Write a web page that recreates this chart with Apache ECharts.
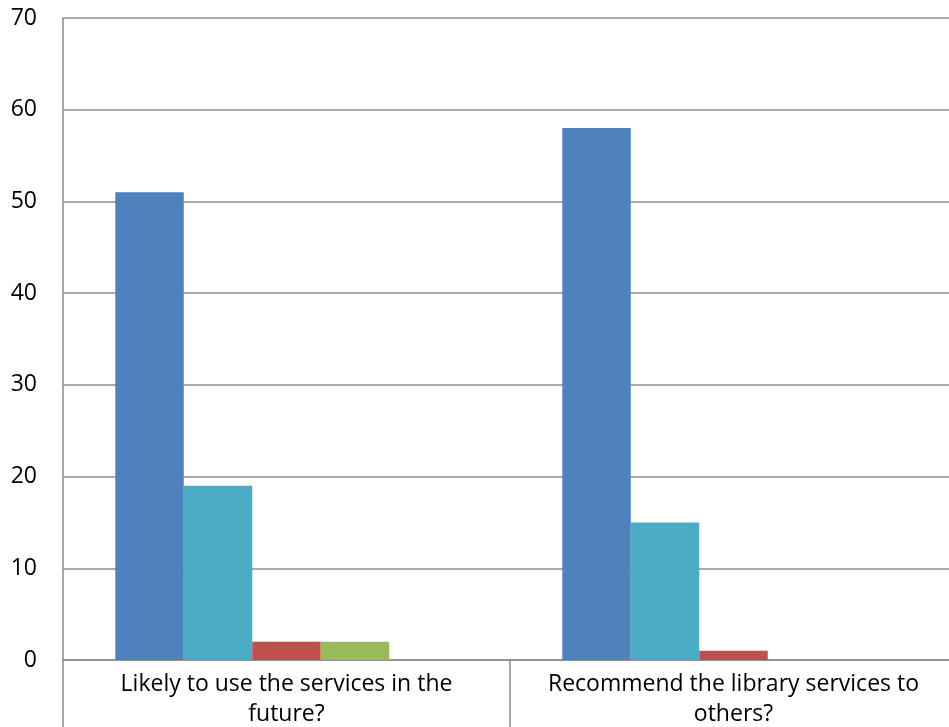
<!DOCTYPE html>
<html>
<head>
<meta charset="utf-8">
<script src="https://cdn.jsdelivr.net/npm/echarts@6/dist/echarts.min.js"></script>
<style>
  html, body { margin: 0; padding: 0; background: #fff; overflow: hidden; }
  #wrap { width: 949px; height: 727px; overflow: hidden; }
  /* the plot runs a little past the right edge of the page */
  #chart { width: 957px; height: 727px; }
</style>
</head>
<body>
<div id="wrap"><div id="chart"></div></div>
<script>
// Survey responses per question
const categories = [
  'Likely to use the services in the future?',
  'Recommend the library services to others?'
];
const seriesBlue = [51, 58];
const seriesTeal = [19, 15];
const seriesRed = [2, 1];
const seriesGreen = [2, 0];
const seriesPurple = [0, 0];
const yTicks = [0, 10, 20, 30, 40, 50, 60, 70];

const colors = ['#4F81BD', '#4BACC6', '#C0504D', '#9BBB59', '#8064A2'];
const seriesData = [seriesBlue, seriesTeal, seriesRed, seriesGreen, seriesPurple];

const chart = echarts.init(document.getElementById('chart'), null, { renderer: 'canvas' });

const gray = '#8c8c8c';
const font = 'Open Sans, Noto Sans, sans-serif';

chart.setOption({
  animation: false,
  backgroundColor: '#ffffff',
  grid: { left: 63, top: 18, right: 0, bottom: 67, containLabel: false, outerBoundsMode: 'none' },
  xAxis: {
    type: 'category',
    data: categories,
    axisLine: { lineStyle: { color: gray, width: 1.5 } },
    axisTick: { show: true, length: 70, lineStyle: { color: gray, width: 1.5 } },
    axisLabel: {
      color: '#000',
      fontSize: 23,
      fontFamily: font,
      lineHeight: 30,
      margin: 9,
      interval: 0,
      formatter: function (v) {
        const i = v.lastIndexOf(' ');
        return v.slice(0, i) + '\n' + v.slice(i + 1);
      }
    },
    splitLine: { show: false }
  },
  yAxis: {
    type: 'value',
    min: yTicks[0],
    max: yTicks[yTicks.length - 1],
    interval: 10,
    axisLine: { show: true, lineStyle: { color: gray, width: 1.5 } },
    axisTick: { show: false },
    axisLabel: { color: '#000', fontSize: 23, fontFamily: font, margin: 26 },
    splitLine: { lineStyle: { color: gray, width: 1.5 } }
  },
  series: seriesData.map((d, i) => ({
    type: 'bar',
    data: d,
    barGap: '0%',
    barCategoryGap: '23.4%',
    itemStyle: { color: colors[i] },
    emphasis: { disabled: true }
  }))
});
</script>
</body>
</html>
